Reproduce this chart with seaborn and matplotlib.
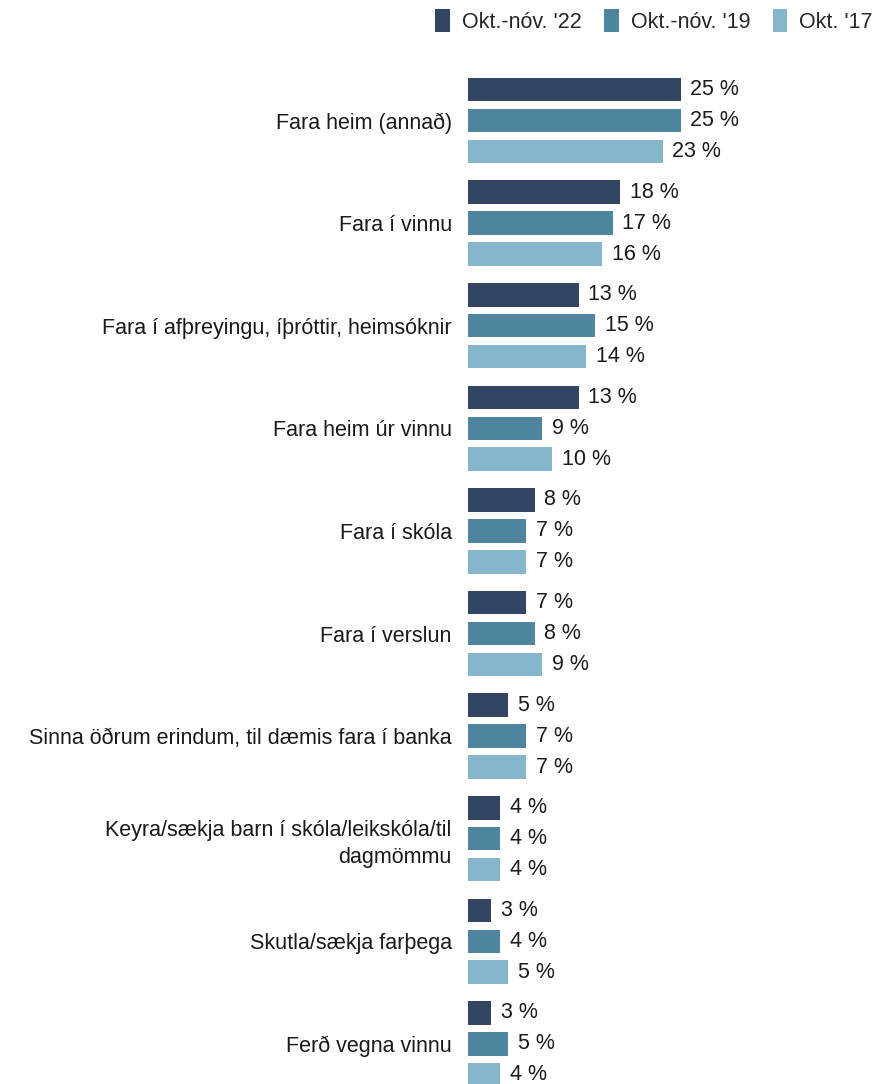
import matplotlib
matplotlib.use("Agg")
import matplotlib.pyplot as plt
from matplotlib.patches import Patch
import seaborn as sns
import pandas as pd

categories = [
    "Fara heim (annað)",
    "Fara í vinnu",
    "Fara í afþreyingu, íþróttir, heimsóknir",
    "Fara heim úr vinnu",
    "Fara í skóla",
    "Fara í verslun",
    "Sinna öðrum erindum, til dæmis fara í banka",
    "Keyra/sækja barn í skóla/leikskóla/til\ndagmömmu",
    "Skutla/sækja farþega",
    "Ferð vegna vinnu",
]
series = ["Okt.-nóv. '22", "Okt.-nóv. '19", "Okt. '17"]
v22 = [25.0, 17.9, 13.0, 13.0, 7.8, 6.8, 4.7, 3.7, 2.7, 2.7]
v19 = [25.0, 17.0, 14.9, 8.7, 6.8, 7.8, 6.8, 3.7, 3.7, 4.7]
v17 = [22.9, 15.8, 13.9, 9.9, 6.8, 8.7, 6.8, 3.7, 4.7, 3.7]
colors = ["#324664", "#4E86A0", "#86B6CC"]

sns.set_theme(style="white")
plt.rcParams['font.family'] = ['Liberation Sans', 'DejaVu Sans']

rows = []
for s, vals in zip(series, [v22, v19, v17]):
    for c, v in zip(categories, vals):
        rows.append({"cat": c, "series": s, "val": v})
df = pd.DataFrame(rows)

FS = 15.5
W, H = 879, 1084
fig = plt.figure(figsize=(W / 100, H / 100), dpi=100)
ax = fig.add_axes([468.5 / W, 0, 381 / W, (H - 70) / H])

sns.barplot(data=df, y="cat", x="val", hue="series", hue_order=series,
            order=categories, palette=colors, orient="h", width=0.905,
            gap=0.24, errorbar=None, legend=False, ax=ax, saturation=1,
            linewidth=0)

for cont, vals in zip(ax.containers, [v22, v19, v17]):
    ax.bar_label(cont, labels=[f"{round(v)} %" for v in vals], padding=7,
                 fontsize=FS, color="#1a1a1a")

px = 102.6
ax.set_ylim((1084 - 120.5) / px, (70 - 120.5) / px)
ax.set_xlim(0, 381 / 8.48)
ax.set_xlabel("")
ax.set_ylabel("")
ax.set_xticks([])
ax.tick_params(axis='y', length=0, pad=12, labelsize=FS, labelcolor="#1a1a1a")
for lab in ax.get_yticklabels():
    lab.set_multialignment("right")
    lab.set_linespacing(1.35)
for sp in ax.spines.values():
    sp.set_visible(False)

handles = [Patch(facecolor=c, edgecolor="none") for c in colors]
fig.legend(handles, series, loc="upper right", bbox_to_anchor=(873 / W, 1 - 9 / H),
           ncol=3, frameon=False, handlelength=0.68, handleheight=1.25,
           handletextpad=0.56, columnspacing=1.05, fontsize=FS,
           borderaxespad=0, borderpad=0)

fig.savefig("out.png", dpi=100)
